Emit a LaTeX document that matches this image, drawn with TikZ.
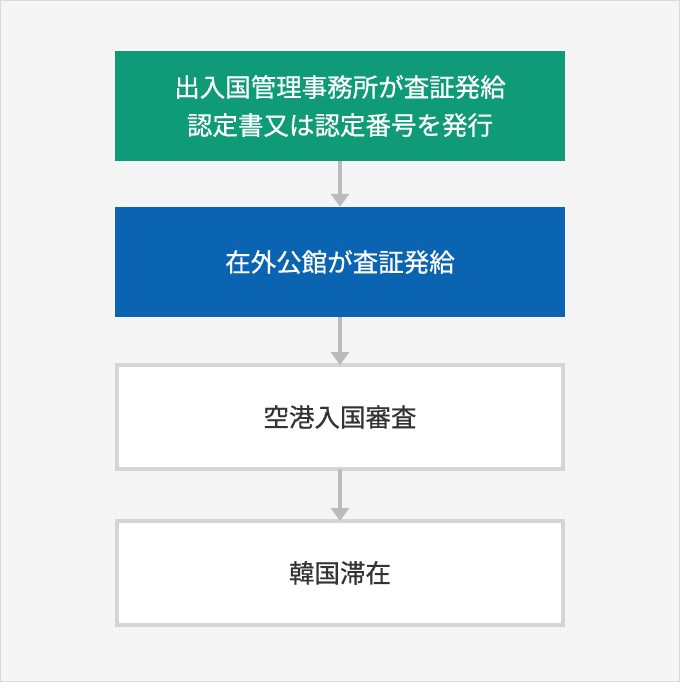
\documentclass[tikz,border=0pt]{standalone}
\usepackage{fontspec}
\usepackage{xcolor}
\usepackage{tikz}
\usetikzlibrary{arrows.meta,positioning}
\newfontfamily\jpfont[FakeBold=0.6]{Noto Sans CJK JP}
\definecolor{bgpanel}{HTML}{F5F5F5}
\definecolor{panelline}{HTML}{D9D9D9}
\definecolor{issuegreen}{HTML}{109B78}
\definecolor{consulblue}{HTML}{0A64B2}
\definecolor{boxline}{HTML}{D5D5D5}
\definecolor{flowarrow}{HTML}{BBBBBB}
\definecolor{darktext}{HTML}{333333}

\begin{document}
\begin{tikzpicture}[x=1pt, y=-1pt, line join=miter,
    stepfill/.style={minimum width=450pt, minimum height=110pt, inner sep=0pt,
      text=white, align=center, font=\jpfont\fontsize{25.5pt}{38pt}\selectfont},
    stepframe/.style={draw=boxline, line width=4pt, fill=white,
      minimum width=446pt, minimum height=104pt, inner sep=0pt,
      text=darktext, align=center, font=\jpfont\fontsize{25.5pt}{38pt}\selectfont},
    flow/.style={draw=flowarrow, line width=4pt,
      -{Triangle[width=18pt,length=13pt]}}]
  % panel
  \useasboundingbox (0,0) rectangle (680,682);
  \draw[fill=bgpanel, draw=panelline, line width=1pt] (0.5,0.5) rectangle (679.5,681.5);
  % steps
  \node[stepfill, fill=issuegreen] (issue) at (340,106)
    {出入国管理事務所が査証発給\\認定書又は認定番号を発行};
  \node[stepfill, fill=consulblue] (visa) at (340,262) {在外公館が査証発給};
  \node[stepframe] (entry) at (340,417) {空港入国審査};
  \node[stepframe] (stay) at (340,573) {韓国滞在};
  % arrows
  \draw[flow] (issue.south) -- (visa.north);
  \draw[flow] (visa.south) -- ([yshift=-2pt]entry.north);
  \draw[flow] ([yshift=2pt]entry.south) -- ([yshift=-2pt]stay.north);
\end{tikzpicture}
\end{document}
